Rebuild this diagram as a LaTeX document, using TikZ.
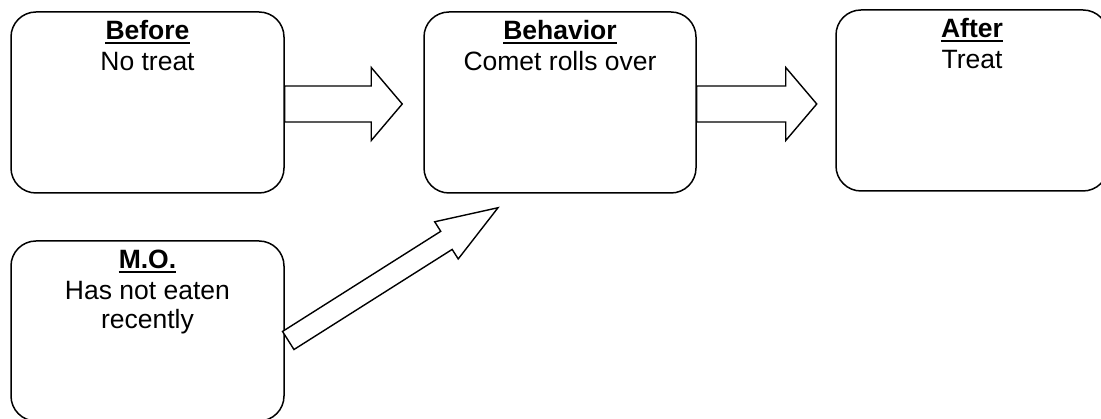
\documentclass[tikz,border=0pt]{standalone}
\usepackage{fontspec}
\setmainfont{Liberation Sans}
\usetikzlibrary{calc}
\tikzset{
  box/.style={draw=black, line width=1.5pt, rounded corners=25pt, inner sep=0pt, minimum height=181pt},
  hdr/.style={font=\fontsize{26.5}{30}\selectfont\bfseries, inner sep=0pt, anchor=base},
  txt/.style={font=\fontsize{26.5}{30}\selectfont, inner sep=0pt, anchor=base},
  uline/.style={line width=1.6pt},
  barrow/.style={draw=black, line width=1.4pt, fill=white, line join=miter}
}
\newcommand\blockarr[6]{%
  \coordinate (#1h) at ($(#3)!#6!(#2)$);
  \draw[barrow] ($(#2)!#4!90:(#3)$) -- ($(#1h)!#4!90:(#3)$) -- ($(#1h)!#5!90:(#3)$) -- (#3)
    -- ($(#1h)!#5!-90:(#3)$) -- ($(#1h)!#4!-90:(#3)$) -- ($(#2)!#4!-90:(#3)$) -- cycle;
}
\begin{document}
\begin{tikzpicture}[x=1pt,y=1pt]
\useasboundingbox (0,0) rectangle (1101,419);
\clip (0,0) rectangle (1101,419);
\fill[white] (0,0) rectangle (1101,419);
% boxes
\node[box, minimum width=273pt] (before) at (147.5,316.5) {};
\node[box, minimum width=272pt] (behavior) at (560,316.5) {};
\node[box, minimum width=272pt] (after) at (972,318.5) {};
\node[box, minimum width=273pt, minimum height=180pt] (mo) at (147.5,88) {};
% texts
\node[hdr] (beforeH) at ([yshift=-28pt]before.north) {Before};
\node[txt] (beforeT) at ([yshift=-31pt]beforeH.base) {No treat};
\node[hdr] (behaviorH) at ([yshift=-28pt]behavior.north) {Behavior};
\node[txt] (behaviorT) at ([yshift=-31pt]behaviorH.base) {Comet rolls over};
\node[hdr] (afterH) at ([yshift=-28pt]after.north) {After};
\node[txt] (afterT) at ([yshift=-31pt]afterH.base) {Treat};
\node[hdr] (moH) at ([yshift=-28pt]mo.north) {M.O.};
\node[txt] (moT1) at ([yshift=-31pt]moH.base) {Has not eaten};
\node[txt] (moT2) at ([yshift=-29pt]moT1.base) {recently};
% underlines
\foreach \h in {beforeH,behaviorH,afterH,moH}
  \draw[uline] ([yshift=-3.5pt]\h.base west) -- ([yshift=-3.5pt]\h.base east);
% arrows
\coordinate (a1tip) at ($(behavior.west)+(-21,-1.5)$);
\coordinate (a1tail) at ($(before.east)+(0,-1.5)$);
\blockarr{a1}{a1tail}{a1tip}{18pt}{36.5pt}{31pt}
\coordinate (a2tail) at ($(behavior.east)+(0,-1.5)$);
\coordinate (a2tip) at ($(behavior.east)+(120,-1.5)$);
\blockarr{a2}{a2tail}{a2tip}{18pt}{36.5pt}{31pt}
\coordinate (a3tail) at ($(mo.east)+(3.5,-9.5)$);
\coordinate (a3tip) at ($(behavior.south)+(-62,-14)$);
\blockarr{a3}{a3tail}{a3tip}{10.7pt}{22pt}{61pt}
\end{tikzpicture}
\end{document}
